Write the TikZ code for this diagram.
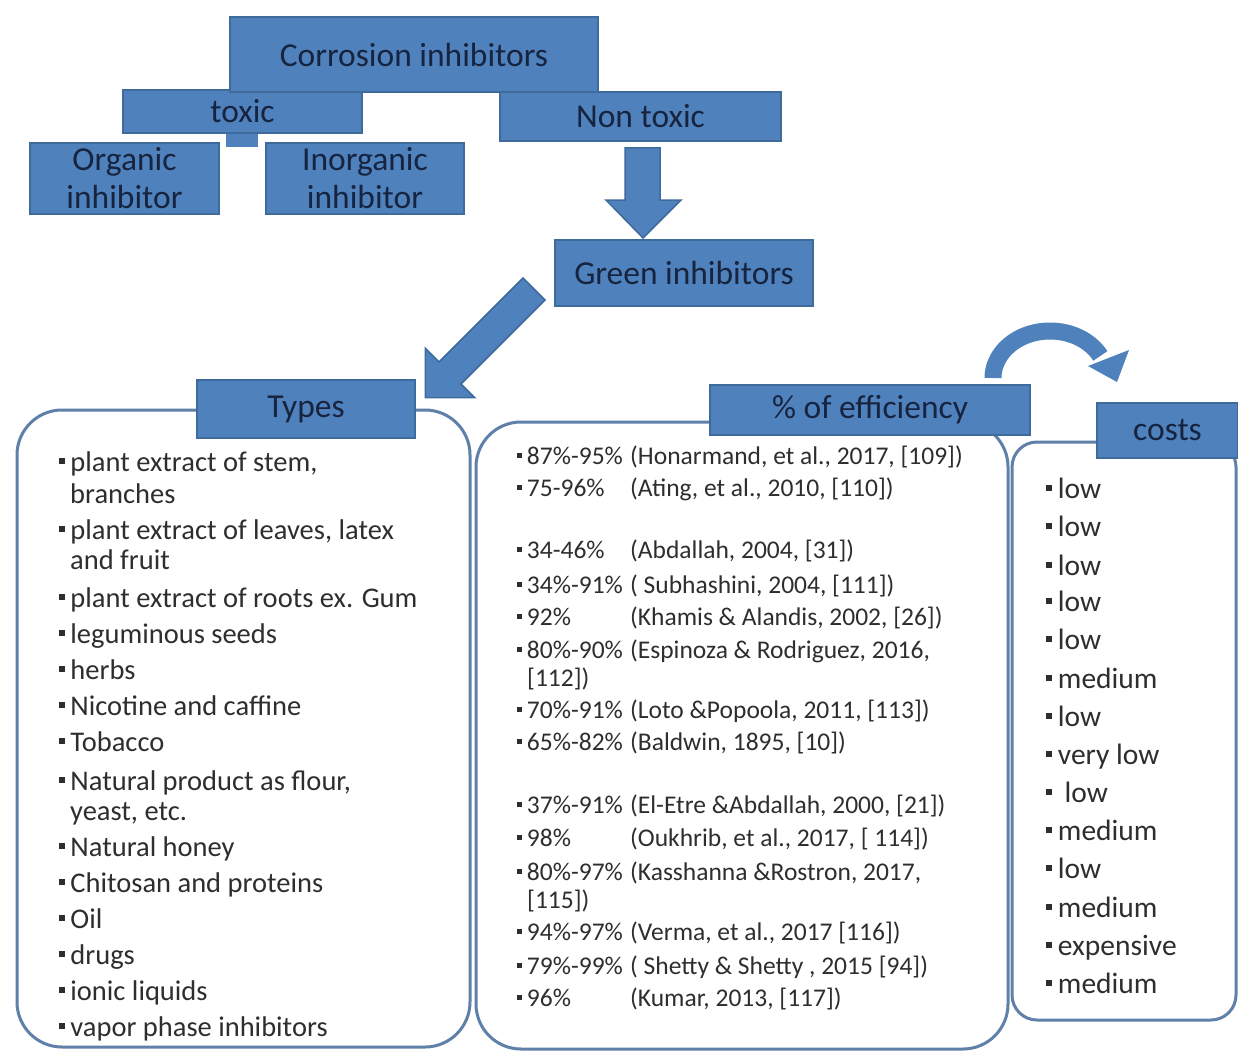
\documentclass[tikz,border=0pt]{standalone}
\usepackage{fontspec}
\setmainfont{Carlito}
\definecolor{boxblue}{HTML}{4F81BD}
\definecolor{boxedge}{HTML}{3F6A9C}
\definecolor{navy}{HTML}{17243F}
\definecolor{panelc}{HTML}{5F80A8}
\definecolor{txt}{HTML}{2E2E2E}
\tikzset{
 bluebox/.style={draw=boxedge, fill=boxblue, line width=1.5pt, text=navy, align=center, inner sep=0pt, font=\fontsize{33.5}{38}\selectfont},
 panelbox/.style={draw=panelc, line width=3pt, fill=white},
 blockarrow/.style={draw=boxedge, fill=boxblue, line width=1.5pt, line join=miter},
 typeitem/.style={anchor=base west, inner sep=0pt, text=txt, font=\fontsize{28.5}{34}\selectfont},
 effitem/.style={anchor=base west, inner sep=0pt, text=txt, font=\fontsize{25.5}{31}\selectfont},
 costitem/.style={anchor=base west, inner sep=0pt, text=txt, font=\fontsize{29.5}{36}\selectfont},
}
\newcommand{\bul}{\hspace{0.1em}\rule[0.24em]{0.2em}{0.2em}\hspace{0.2em}}
\newcommand{\effline}[2]{\makebox[116pt][l]{\bul#1}#2}
\begin{document}
\begin{tikzpicture}[x=1pt,y=-1pt]
\useasboundingbox[fill=white] (0,0) rectangle (1238,1051);

% ---------- top hierarchy ----------
\fill[boxblue] (226,128) rectangle (258,147);
\node[bluebox, minimum width=239pt, minimum height=43pt] (tox) at (242.5,111.5) {toxic};
\node[bluebox, minimum width=368pt, minimum height=75pt] (ci) at (414,54.5) {Corrosion inhibitors};
\node[bluebox, minimum width=281pt, minimum height=49pt] (nt) at (640.5,116.5) {Non toxic};
\node[bluebox, minimum width=189pt, minimum height=71pt] (org) at (124.5,178.5) {Organic\\inhibitor};
\node[bluebox, minimum width=198pt, minimum height=71pt] (inorg) at (365,178.5) {Inorganic\\inhibitor};

% down block arrow
\draw[blockarrow] (625,148) -- (660,148) -- (660,200) -- (681,200) -- (643,238) -- (606,200) -- (625,200) -- cycle;
\node[bluebox, minimum width=258pt, minimum height=66pt] (gi) at (684,273) {Green inhibitors};

% diagonal block arrow
\draw[blockarrow] (523,278) -- (545,300) -- (461,384) -- (474.7,397.7) -- (425.3,397.7) -- (425.3,348.3) -- (439,362) -- cycle;

% curved arrow
\draw[boxblue, line width=17pt] plot[domain=180:28, samples=60] ({1050+57*cos(\x)}, {378-47*sin(\x)});
\fill[boxblue] (1088,366) -- (1129,350) -- (1117,382) -- cycle;

% ---------- panels ----------
\path[panelbox, rounded corners=25pt] (1012,442) rectangle (1236,1020);
\path[panelbox, rounded corners=45pt] (476,422) rectangle (1008,1049);
\path[panelbox, rounded corners=45pt] (17,410) rectangle (470,1047);

\node[bluebox, minimum width=218pt, minimum height=58pt] (types) at (306,409) {Types};
\node[bluebox, minimum width=320pt, minimum height=50pt] (eff) at (870,410) {\% of efficiency};
\node[bluebox, minimum width=141pt, minimum height=55pt] (costs) at (1167.5,430.5) {costs};

% ---------- types list ----------
\node[typeitem] (ty1) at (56,471) {\bul plant extract of stem,};
\node[typeitem] (ty2) at (70,503) {branches};
\node[typeitem] (ty3) at (56,539) {\bul plant extract of leaves, latex};
\node[typeitem] (ty4) at (70,569) {and fruit};
\node[typeitem] (ty5) at (56,607) {\bul plant extract of roots ex. Gum};
\node[typeitem] (ty6) at (56,643) {\bul leguminous seeds};
\node[typeitem] (ty7) at (56,679) {\bul herbs};
\node[typeitem] (ty8) at (56,715) {\bul Nicotine and caffine};
\node[typeitem] (ty9) at (56,751) {\bul Tobacco};
\node[typeitem] (ty10) at (56,790) {\bul Natural product as flour,};
\node[typeitem] (ty11) at (70,820) {yeast, etc.};
\node[typeitem] (ty12) at (56,856) {\bul Natural honey};
\node[typeitem] (ty13) at (56,892) {\bul Chitosan and proteins};
\node[typeitem] (ty14) at (56,928) {\bul Oil};
\node[typeitem] (ty15) at (56,964) {\bul drugs};
\node[typeitem] (ty16) at (56,1000) {\bul ionic liquids};
\node[typeitem] (ty17) at (56,1036) {\bul vapor phase inhibitors};

% ---------- efficiency list ----------
\node[effitem] (ef1) at (514,464) {\effline{87\%-95\%}{(Honarmand, et al., 2017, [109])}};
\node[effitem] (ef2) at (514,496) {\effline{75-96\%}{(Ating, et al., 2010, [110])}};
\node[effitem] (ef3) at (514,558) {\effline{34-46\%}{(Abdallah, 2004, [31])}};
\node[effitem] (ef4) at (514,593) {\effline{34\%-91\%}{( Subhashini, 2004, [111])}};
\node[effitem] (ef5) at (514,625) {\effline{92\%}{(Khamis \& Alandis, 2002, [26])}};
\node[effitem] (ef6) at (514,658) {\effline{80\%-90\%}{(Espinoza \& Rodriguez, 2016,}};
\node[effitem] (ef7) at (527,686) {[112])};
\node[effitem] (ef8) at (514,718) {\effline{70\%-91\%}{(Loto \&Popoola, 2011, [113])}};
\node[effitem] (ef9) at (514,750) {\effline{65\%-82\%}{(Baldwin, 1895, [10])}};
\node[effitem] (ef10) at (514,813) {\effline{37\%-91\%}{(El-Etre \&Abdallah, 2000, [21])}};
\node[effitem] (ef11) at (514,846) {\effline{98\%}{(Oukhrib, et al., 2017, [ 114])}};
\node[effitem] (ef12) at (514,880) {\effline{80\%-97\%}{(Kasshanna \&Rostron, 2017,}};
\node[effitem] (ef13) at (527,908) {[115])};
\node[effitem] (ef14) at (514,940) {\effline{94\%-97\%}{(Verma, et al., 2017 [116])}};
\node[effitem] (ef15) at (514,974) {\effline{79\%-99\%}{( Shetty \& Shetty , 2015 [94])}};
\node[effitem] (ef16) at (514,1006) {\effline{96\%}{(Kumar, 2013, [117])}};

% ---------- costs list ----------
\node[costitem] (co1) at (1043,498) {\bul low};
\node[costitem] (co2) at (1043,536) {\bul low};
\node[costitem] (co3) at (1043,575) {\bul low};
\node[costitem] (co4) at (1043,611) {\bul low};
\node[costitem] (co5) at (1043,649) {\bul low};
\node[costitem] (co6) at (1043,688) {\bul medium};
\node[costitem] (co7) at (1043,726) {\bul low};
\node[costitem] (co8) at (1043,764) {\bul very low};
\node[costitem] (co9) at (1043,802) {\bul\ low};
\node[costitem] (co10) at (1043,840) {\bul medium};
\node[costitem] (co11) at (1043,878) {\bul low};
\node[costitem] (co12) at (1043,917) {\bul medium};
\node[costitem] (co13) at (1043,955) {\bul expensive};
\node[costitem] (co14) at (1043,993) {\bul medium};
\end{tikzpicture}
\end{document}
